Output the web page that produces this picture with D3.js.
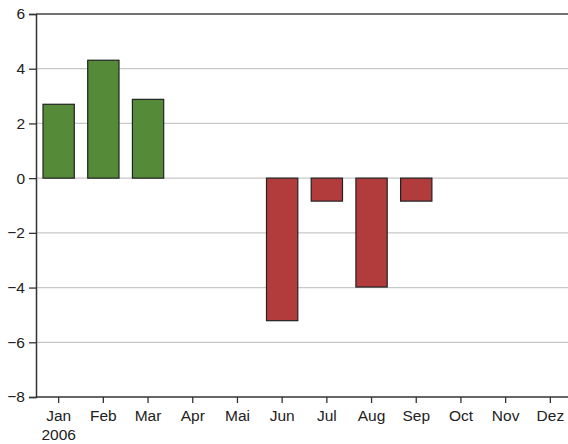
<!DOCTYPE html>
<html><head><meta charset="utf-8">
<script src="https://cdn.jsdelivr.net/npm/d3@7"></script>
<style>body{margin:0;background:#fff}svg{display:block}</style>
</head><body>
<script>
const months = ["Jan","Feb","Mar","Apr","Mai","Jun","Jul","Aug","Sep","Oct","Nov","Dez"];
const values = [2.7, 4.31, 2.88, null, null, -5.21, -0.84, -3.98, -0.84, null, null, null];
const yTicks = [-8,-6,-4,-2,0,2,4,6];
const yearLabel = "2006";

const W = 568, H = 444;
const svg = d3.select("body").append("svg").attr("width", W).attr("height", H);
const x = d3.scaleBand().domain(months).range([36.3, 36.3 + 12*44.7]).paddingInner(0.3).paddingOuter(0.15);
const y = d3.scaleLinear().domain([-8, 6]).range([397, 14]);

const font = "'Liberation Sans', Arial, sans-serif";
const fs = 15.5;
// grid
svg.append("g").selectAll("line").data(yTicks.filter(d => d > -8 && d < 6)).join("line")
  .attr("x1", 36).attr("x2", W).attr("y1", d => y(d)).attr("y2", d => y(d))
  .attr("stroke", "#c8c8c8").attr("stroke-width", 1.3);

// bars
const data = months.map((m, i) => ({m, v: values[i]})).filter(d => d.v != null);
svg.append("g").selectAll("rect").data(data).join("rect")
  .attr("x", d => x(d.m))
  .attr("width", x.bandwidth())
  .attr("y", d => y(Math.max(0, d.v)))
  .attr("height", d => Math.abs(y(d.v) - y(0)))
  .attr("fill", d => d.v >= 0 ? "#558b38" : "#b23c3c")
  .attr("stroke", "#222").attr("stroke-width", 1.2);

// top border
svg.append("line").attr("x1", 36).attr("x2", W).attr("y1", 14).attr("y2", 14)
  .attr("stroke", "#444").attr("stroke-width", 1.5);

// y axis
const ya = svg.append("g").attr("transform", "translate(36,0)")
  .call(d3.axisLeft(y).tickValues(yTicks).tickSize(7).tickPadding(4).tickFormat(d => d < 0 ? "\u2212" + Math.abs(d) : d));
ya.select(".domain").attr("stroke", "#333").attr("stroke-width", 1.5);
ya.selectAll(".tick line").attr("stroke", "#333").attr("stroke-width", 1.3);
ya.selectAll("text").attr("font-family", font).attr("font-size", fs).attr("fill", "#222");

// x axis
const xa = svg.append("g").attr("transform", "translate(0,397)")
  .call(d3.axisBottom(x).tickSize(6).tickSizeOuter(0).tickPadding(7));
xa.select(".domain").attr("stroke", "#333").attr("stroke-width", 1.5).attr("d", `M36,0H${W}`);
xa.selectAll(".tick line").attr("stroke", "#333").attr("stroke-width", 1.3);
xa.selectAll("text").attr("font-family", font).attr("font-size", fs).attr("fill", "#222");
svg.append("text").attr("x", x("Jan") + x.bandwidth()/2).attr("y", 440)
  .attr("text-anchor", "middle").attr("font-family", font).attr("font-size", fs).attr("fill", "#222")
  .text(yearLabel);
</script>
</body></html>
